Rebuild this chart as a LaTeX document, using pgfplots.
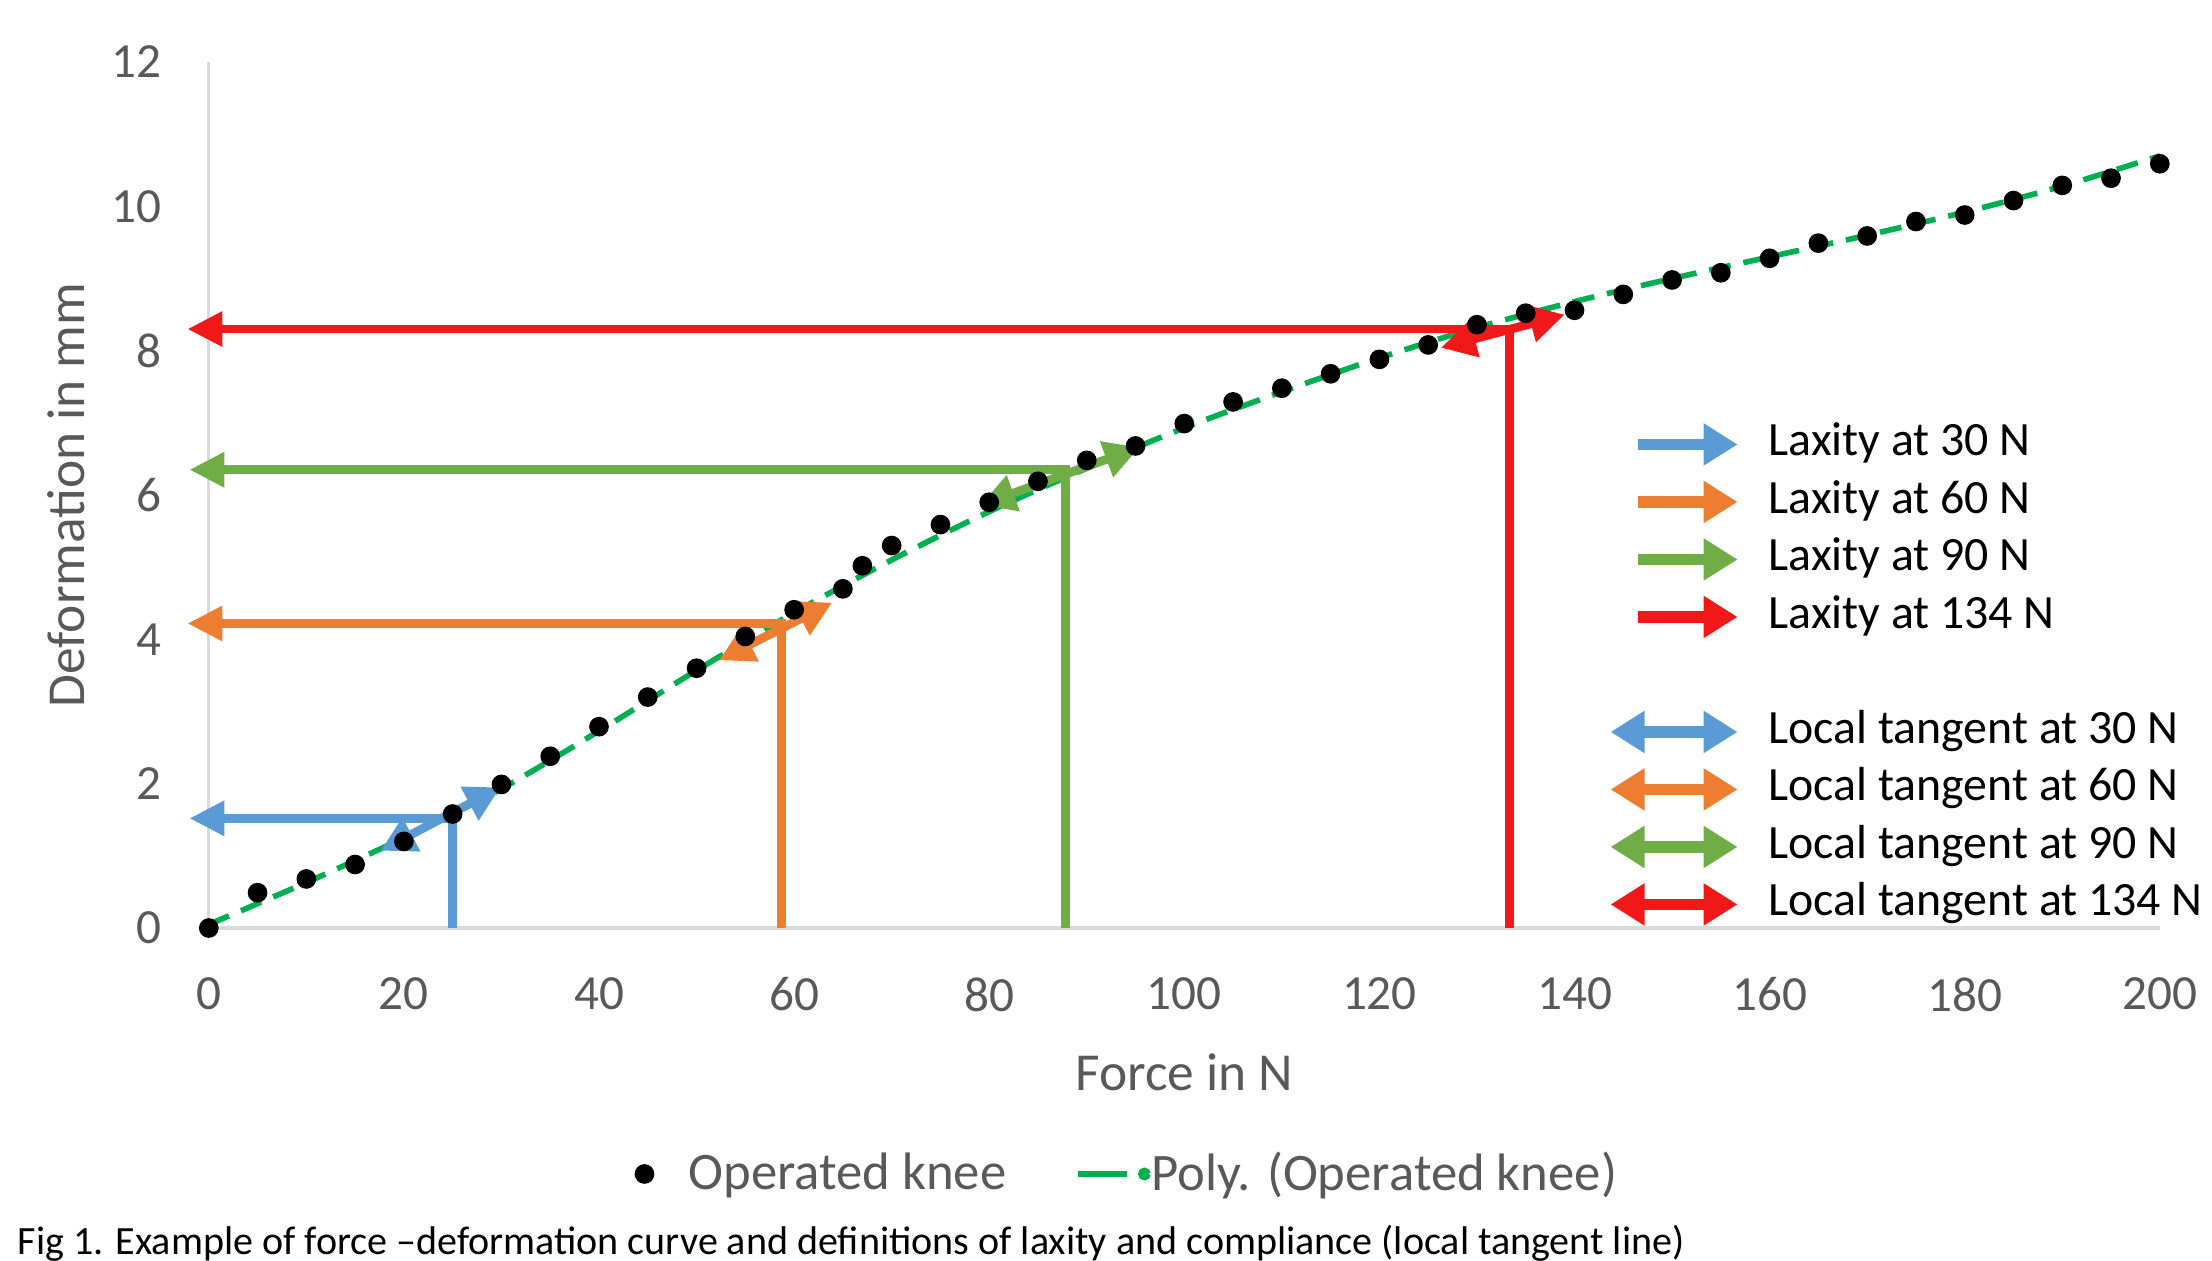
\documentclass[border=0pt]{standalone}
\usepackage{pgfplots}
\pgfplotsset{compat=1.18}
\usepackage{fontspec}
\setmainfont{Carlito}
\usetikzlibrary{arrows.meta}
\definecolor{cblue}{HTML}{5B9BD5}
\definecolor{corange}{HTML}{ED7D31}
\definecolor{cgreen}{HTML}{70AD47}
\definecolor{cred}{HTML}{F01818}
\definecolor{ctrend}{HTML}{00B050}
\definecolor{ctext}{HTML}{595959}
\definecolor{caxis}{HTML}{D9D9D9}
\tikzset{
  lax/.style={line width=2.5pt, line join=miter, -{Triangle[length=3.5mm,width=3.3mm]}},
  tan/.style={line width=2.5pt, {Triangle[length=3.5mm,width=3.6mm]}-{Triangle[length=3.5mm,width=3.6mm]}},
}
\pgfplotsset{
  singlearrow/.style={legend image code/.code={
    \draw[solid, line width=3.3pt, -{Triangle[length=3.4mm,width=4mm]}] (0.27cm,0cm) -- (1.27cm,0cm);
    \path[draw=none, fill=none] (0cm,0cm) -- (1.58cm,0cm);}},
  doublearrow/.style={legend image code/.code={
    \draw[solid, line width=3.3pt, {Triangle[length=3.4mm,width=4mm]}-{Triangle[length=3.4mm,width=4mm]}] (0cm,0cm) -- (1.27cm,0cm);
    \path[draw=none, fill=none] (0cm,0cm) -- (1.58cm,0cm);}},
}
\pgfplotstableread{
x y
0 0
5 0.49
10 0.68
15 0.88
20 1.20
25 1.58
30 1.99
35 2.38
40 2.79
45 3.20
50 3.60
55 4.04
60 4.41
65 4.70
67 5.02
70 5.30
75 5.59
80 5.90
85 6.19
90 6.48
95 6.68
100 6.99
105 7.29
110 7.48
115 7.68
120 7.88
125 8.08
130 8.36
135 8.52
140 8.56
145 8.78
150 8.98
155 9.08
160 9.28
165 9.49
170 9.59
175 9.79
180 9.88
185 10.08
190 10.29
195 10.39
200 10.59
}\knee
\pgfplotstableread{
x y
0 0.05
10 0.63
20 1.25
30 1.93
40 2.73
50 3.57
60 4.37
70 5.10
80 5.77
90 6.37
100 6.93
110 7.43
120 7.90
130 8.32
140 8.68
150 9.00
160 9.30
170 9.60
180 9.92
190 10.28
200 10.70
}\trend
\begin{document}
\begin{tikzpicture}
\begin{axis}[
  at={(0,0)}, anchor=south west,
  width=19.51cm, height=8.66cm, scale only axis,
  xmin=0, xmax=200, ymin=0, ymax=12,
  xtick={0,20,...,200}, ytick={0,2,...,12},
  axis x line=bottom, axis y line=left,
  axis line style={-, draw=caxis, line width=0.9pt},
  major tick length=0pt, tick style={draw=none},
  clip=false,
  /pgf/number format/assume math mode=true,
  ticklabel style={font=\fontsize{14}{16}\selectfont, text=ctext},
  xticklabel style={yshift=-0.37cm},
  yticklabel style={xshift=-0.35cm},
  xlabel={Force in N}, ylabel={Deformation in mm},
  label style={font=\fontsize{15.2}{18}\selectfont, text=ctext},
  xlabel style={at={(axis description cs:0.5,-0.1663)}, anchor=center},
  ylabel style={at={(axis description cs:-0.0733,0.5)}, anchor=center},
  legend columns=2,
  legend style={at={(axis description cs:0.4700,-0.284)}, anchor=center,
    draw=none, fill=none, inner sep=0pt, outer sep=0pt,
    font=\fontsize{15}{18}\selectfont, text=ctext,
    nodes={inner sep=0pt}, column sep=0pt},
]
\addplot[only marks, mark=*, mark size=2.6pt, black,
  legend image code/.code={\fill[black] (0cm,0cm) circle (2.6pt); \path[draw=none,fill=none] (-0.1cm,0cm) -- (0.44cm,0cm);}]
  table[x=x,y=y] {\knee};
\addlegendentry{Operated knee}
\addplot[ctrend, line width=1.6pt, dash pattern=on 2.2mm off 1.3mm, smooth,
  legend image code/.code={\draw[solid, ctrend, line width=1.8pt] (0.72cm,0cm) -- (1.21cm,0cm); \fill[ctrend] (1.38cm,0cm) circle (1pt); \path[draw=none,fill=none] (0cm,0cm) -- (1.45cm,0cm);}]
  table[x=x,y=y] {\trend};
\addlegendentry{Poly. (Operated knee)}
% laxity arrows
\addplot[cblue, lax, forget plot] coordinates {(25,0) (25,1.52) (-2,1.52)};
\addplot[corange, lax, forget plot] coordinates {(58.7,0) (58.7,4.22) (-2.2,4.22)};
\addplot[cgreen, lax, forget plot] coordinates {(87.8,0) (87.8,6.35) (-2,6.35)};
\addplot[cred, lax, forget plot] coordinates {(133.3,0) (133.3,8.30) (-2.2,8.30)};
% local tangents
\addplot[cblue, tan, forget plot] coordinates {(17.6,1.07) (29.9,1.95)};
\addplot[corange, tan, forget plot] coordinates {(52.3,3.71) (63.9,4.51)};
\addplot[cgreen, tan, forget plot] coordinates {(79.1,5.86) (95.4,6.66)};
\addplot[cred, tan, forget plot] coordinates {(126.3,8.04) (139.0,8.50)};
\end{axis}
\begin{axis}[
  at={(0,0)}, anchor=south west,
  width=19.51cm, height=8.66cm, scale only axis,
  xmin=0, xmax=200, ymin=0, ymax=12, hide axis,
  legend cell align=left,
  legend style={at={(axis description cs:0.7155,0.2928)}, anchor=west,
    draw=none, fill=none, inner sep=0pt, outer sep=0pt,
    font=\fontsize{13.6}{16}\selectfont, text=black,
    nodes={inner sep=0pt, text height=0.40cm, text depth=0.175cm},
    column sep=0pt, row sep=0pt},
]
\addlegendimage{cblue, singlearrow}\addlegendentry{Laxity at 30 N}
\addlegendimage{corange, singlearrow}\addlegendentry{Laxity at 60 N}
\addlegendimage{cgreen, singlearrow}\addlegendentry{Laxity at 90 N}
\addlegendimage{cred, singlearrow}\addlegendentry{Laxity at 134 N}
\addlegendimage{empty legend}\addlegendentry{}
\addlegendimage{cblue, doublearrow}\addlegendentry{Local tangent at 30 N}
\addlegendimage{corange, doublearrow}\addlegendentry{Local tangent at 60 N}
\addlegendimage{cgreen, doublearrow}\addlegendentry{Local tangent at 90 N}
\addlegendimage{cred, doublearrow}\addlegendentry{Local tangent at 134 N}
\end{axis}
\node[anchor=base west, inner sep=0pt, font=\fontsize{11.4}{13}\selectfont] at (-1.918,-3.26)
  {Fig 1. Example of force –deformation curve and definitions of laxity and compliance (local tangent line)};
\pgfresetboundingbox
\path (-2.088,-3.32) rectangle (20.032,9.28);
\end{tikzpicture}
\end{document}
